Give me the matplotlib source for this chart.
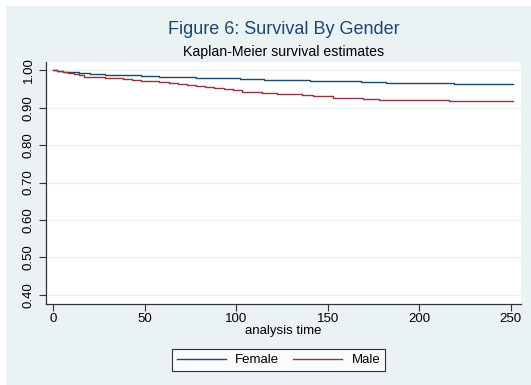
import numpy as np
import matplotlib
matplotlib.use('Agg')
import matplotlib.pyplot as plt
from matplotlib.patches import Rectangle

plt.rcParams['font.family'] = ['Liberation Sans', 'DejaVu Sans']

# Kaplan-Meier step estimates
t_female = [0, 2, 5, 9, 14, 20, 28, 38, 48, 58, 68, 78, 90, 102, 115, 128,
            140, 152, 168, 182, 219, 251]
s_female = [1.000, 0.998, 0.996, 0.994, 0.992, 0.990, 0.988, 0.986, 0.985,
            0.983, 0.981, 0.980, 0.978, 0.976, 0.975, 0.973, 0.971, 0.970,
            0.969, 0.966, 0.964, 0.964]
t_male = [0, 2, 5, 8, 11, 14, 17, 28, 33, 38, 43, 48, 53, 58, 63, 68, 73, 78,
          83, 88, 93, 98, 103, 108, 114, 122, 130, 136, 142, 148, 153, 157,
          169, 178, 216, 251]
s_male = [1.000, 0.998, 0.995, 0.992, 0.989, 0.986, 0.982, 0.980, 0.978,
          0.976, 0.974, 0.972, 0.970, 0.968, 0.966, 0.964, 0.961, 0.958,
          0.955, 0.952, 0.949, 0.946, 0.943, 0.941, 0.939, 0.937, 0.936,
          0.934, 0.932, 0.930, 0.927, 0.925, 0.922, 0.921, 0.918, 0.918]
xticks = [0, 50, 100, 150, 200, 250]
yticks = [0.40, 0.50, 0.60, 0.70, 0.80, 0.90, 1.00]

navy = '#1A476F'
maroon = '#90353B'
bg = '#EAF2F3'

fig = plt.figure(figsize=(5.31, 3.85), dpi=100, facecolor='white')
fig.patches.append(Rectangle((6/531, 0), 1, 1 - 6/385, transform=fig.transFigure,
                             facecolor=bg, edgecolor='none', zorder=-10))
ax = fig.add_axes([45.7/531, 1 - 303.5/385, (521 - 45.7)/531, (303.5 - 62)/385])
ax.set_facecolor('white')

ax.step(t_female, s_female, where='post', color=navy, lw=1.0, label='Female')
ax.step(t_male, s_male, where='post', color=maroon, lw=1.0, label='Male')

ax.set_xlim(-4.2, 255.6)
ax.set_ylim(0.377, 1.022)
ax.set_xticks(xticks)
ax.set_yticks(yticks)
ax.set_yticklabels(['%.2f' % v for v in yticks], rotation=90, va='center')
ax.tick_params(labelsize=9.5, length=5, width=0.8, color='#333333', direction='out')
ax.tick_params(axis='x', pad=2)
ax.tick_params(axis='y', pad=3)
ax.grid(axis='y', color=bg, lw=1.0)
ax.set_axisbelow(True)
for side in ['top', 'right']:
    ax.spines[side].set_visible(False)
for side in ['left', 'bottom']:
    ax.spines[side].set_color('#333333')
    ax.spines[side].set_linewidth(0.9)

ax.set_xlabel('analysis time', fontsize=9.5, labelpad=0)
fig.text(0.5 * (45.7 + 521) / 531, 1 - 30/385, 'Figure 6: Survival By Gender',
         ha='center', va='center', fontsize=13, color=navy)
fig.text(0.5 * (45.7 + 521) / 531, 1 - 52/385, 'Kaplan-Meier survival estimates',
         ha='center', va='center', fontsize=10.2, color='black')

leg = fig.legend(loc='center', bbox_to_anchor=(278.5/531, 1 - 360/385), ncol=2,
                 fontsize=9.5, frameon=True, fancybox=False, handlelength=3.7,
                 columnspacing=1.1, borderpad=0.35, borderaxespad=0,
                 handletextpad=0.7)
leg.get_frame().set_edgecolor('black')
leg.get_frame().set_linewidth(0.8)

fig.savefig('out.png', dpi=100, facecolor=fig.get_facecolor())
